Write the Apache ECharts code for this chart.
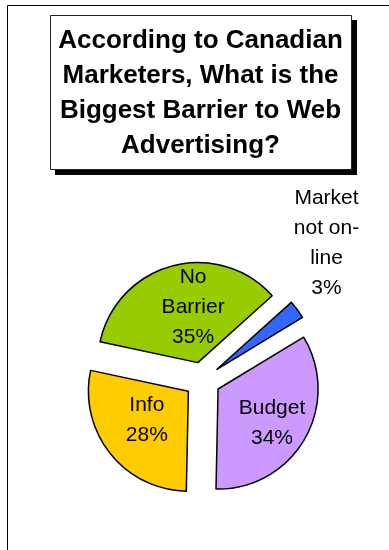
<!DOCTYPE html>
<html>
<head>
<meta charset="utf-8">
<script src="https://cdn.jsdelivr.net/npm/echarts@6/dist/echarts.min.js"></script>
<style>
  html, body { margin: 0; padding: 0; background: #fff; }
  #chart { width: 389px; height: 550px; }
</style>
</head>
<body>
<div id="chart"></div>
<script>
// Survey answers, clockwise from the small exploded wedge
const categories = ['Market\nnot on-\nline', 'Budget', 'Info', 'No\nBarrier'];
const shares = [3, 34, 28, 35];
const sliceColors = ['#3366FF', '#CC99FF', '#FFCC00', '#99CC00'];
// Nudges for each slice label, relative to its default inside position
const labelNudges = [[67, -94], [8, 8], [0, -4], [9, -4]];

const titleText = 'According to Canadian\nMarketers, What is the\nBiggest Barrier to Web\nAdvertising?';
const FONT = '"Liberation Sans", Arial, sans-serif';

const chart = echarts.init(document.getElementById('chart'), null, { renderer: 'canvas' });

chart.setOption({
  animation: false,
  backgroundColor: '#ffffff',
  graphic: [
    {
      // page frame running off the right and bottom edges
      type: 'rect',
      shape: { x: 7.5, y: 5.5, width: 600, height: 700 },
      style: { fill: 'none', stroke: '#000', lineWidth: 1 },
      z: 0, silent: true
    },
    {
      // hard drop shadow behind the title card
      type: 'rect',
      shape: { x: 55, y: 20, width: 302, height: 155 },
      style: { fill: '#000' },
      z: 1, silent: true
    },
    {
      // title card
      type: 'rect',
      shape: { x: 50.5, y: 15.5, width: 301, height: 154 },
      style: { fill: '#fff', stroke: '#222', lineWidth: 1 },
      z: 2, silent: true
    }
  ],
  title: {
    text: titleText,
    left: 191.5,
    top: 15,
    textAlign: 'center',
    padding: [8, 8, 9, 9],
    z: 10,
    textStyle: {
      fontFamily: FONT,
      fontWeight: 'bold',
      fontSize: 26,
      lineHeight: 35,
      color: '#000'
    }
  },
  series: [{
    type: 'pie',
    center: [202.5, 380],
    radius: [0, 100],
    startAngle: 42,
    clockwise: true,
    selectedMode: 'multiple',
    selectedOffset: 18,
    avoidLabelOverlap: false,
    silent: true,
    itemStyle: { borderColor: '#000', borderWidth: 1.5 },
    label: {
      show: true,
      position: 'inside',
      formatter: '{b}\n{d}%',
      fontFamily: FONT,
      fontSize: 21,
      lineHeight: 30,
      color: '#000',
      align: 'center'
    },
    labelLine: { show: false },
    labelLayout: function (params) {
      const n = labelNudges[params.dataIndex];
      return { dx: n[0], dy: n[1] };
    },
    data: categories.map(function (name, i) {
      return {
        name: name,
        value: shares[i],
        selected: true,
        itemStyle: { color: sliceColors[i] },
        select: { itemStyle: { color: sliceColors[i] } }
      };
    }),
    select: { itemStyle: { borderColor: '#000', borderWidth: 1.5 } }
  }]
});
</script>
</body>
</html>
